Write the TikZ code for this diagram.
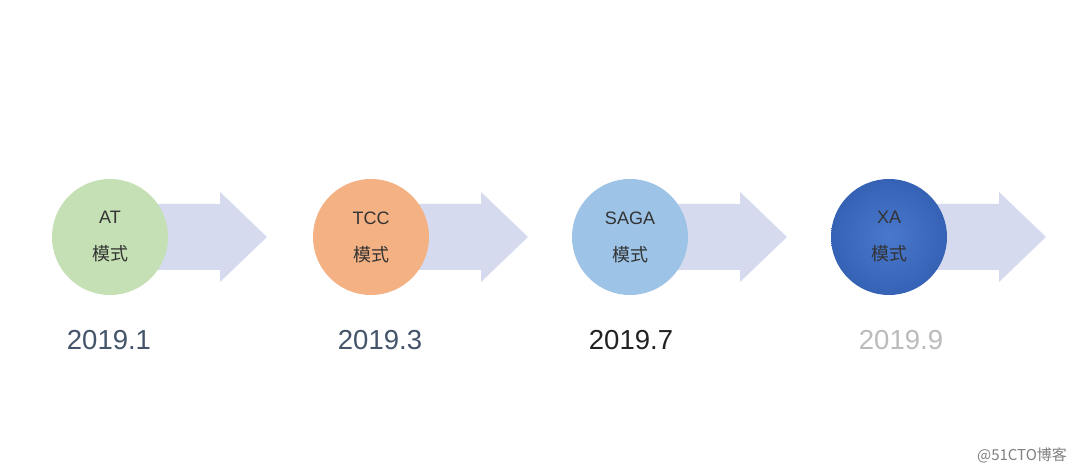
\documentclass[tikz,border=0pt]{standalone}
\usepackage{fontspec}
\setmainfont{Liberation Sans}
\newfontfamily\cjk{Noto Sans CJK SC}
\usetikzlibrary{shapes.arrows}
\definecolor{arrowc}{HTML}{D6DAEE}
\definecolor{cgreen}{HTML}{C5E0B4}
\definecolor{corange}{HTML}{F4B183}
\definecolor{cblue}{HTML}{9DC3E6}
\definecolor{cdarkin}{HTML}{4A78CC}
\definecolor{cdarkout}{HTML}{3562B5}
\definecolor{date1}{HTML}{44546A}
\definecolor{date3}{HTML}{222222}
\definecolor{date4}{HTML}{BBBBBB}
\tikzset{
  circ/.style={circle, minimum size=116pt, inner sep=0pt, align=center, font=\fontsize{18}{37}\selectfont, text=black!80},
  datelbl/.style={font=\fontsize{27.5}{30}\selectfont},
}
\begin{document}
\begin{tikzpicture}[x=1pt,y=-1pt]
\path[use as bounding box, fill=white] (0,0) rectangle (1080,473);
\foreach \cx in {110,371,630,889}{
  \fill[arrowc] (\cx,204) -- (\cx+110,204) -- (\cx+110,192) -- (\cx+157,237) -- (\cx+110,282) -- (\cx+110,270) -- (\cx,270) -- cycle;
}
\node[circ, fill=cgreen] (at) at (110,237) {AT\\{\cjk 模式}};
\node[circ, fill=corange] (tcc) at (371,237) {TCC\\{\cjk 模式}};
\node[circ, fill=cblue] (saga) at (630,237) {SAGA\\{\cjk 模式}};
\node[circ, inner color=cdarkin, outer color=cdarkout] (xa) at (889,237) {XA\\{\cjk 模式}};
\node[datelbl, text=date1] (d1) at (109,340) {2019.1};
\node[datelbl, text=date1] (d2) at (380,340) {2019.3};
\node[datelbl, text=date3] (d3) at (631,340) {2019.7};
\node[datelbl, text=date4] (d4) at (901,340) {2019.9};
\node[font=\cjk\fontsize{15}{16}\selectfont, text=black!50] (wm) at (1022,455) {@51CTO博客};
\end{tikzpicture}
\end{document}
